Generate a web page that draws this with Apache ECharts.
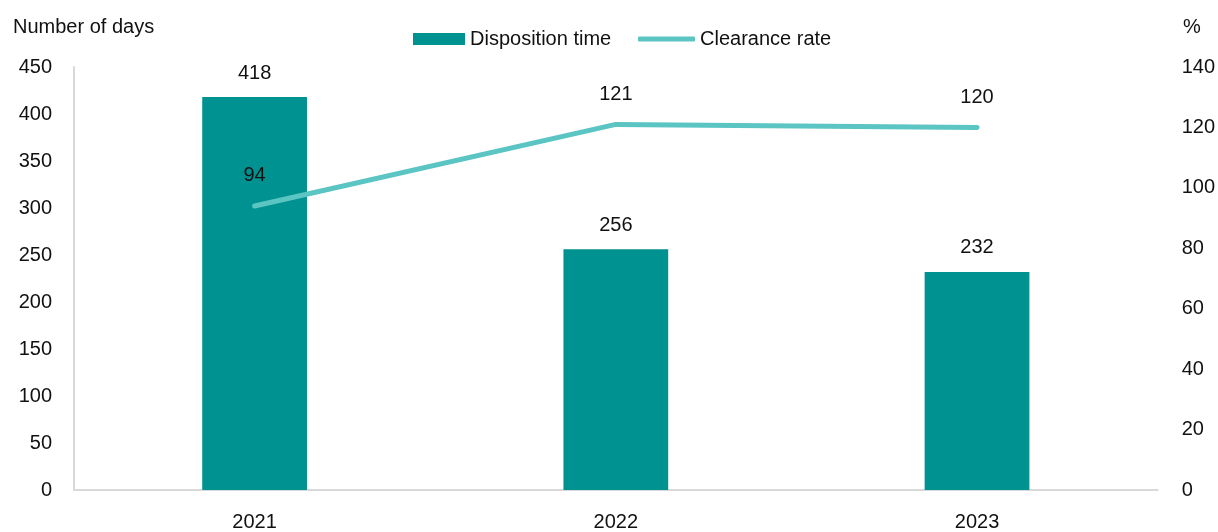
<!DOCTYPE html>
<html><head><meta charset="utf-8">
<script src="https://cdn.jsdelivr.net/npm/echarts@6/dist/echarts.min.js"></script>
<style>html,body{margin:0;padding:0;background:#fff}#c{width:1218px;height:532px}</style>
</head><body><div id="c"></div>
<script>
const categories = ['2021', '2022', '2023'];
const dispositionTime = [418, 256, 232];
const clearanceRate = [94, 121, 120];
const leftTicks = [0, 450, 50];
const rightTicks = [0, 140, 20];

const FONT = '"Liberation Sans Narrow", "Arial Narrow", "Liberation Sans", Arial, sans-serif';
const FS = 20;
const txt = { fontFamily: FONT, fontSize: FS, color: '#111' };
const BAR_C = '#009191';
const LINE_C = '#5BC5C3';
const chart = echarts.init(document.getElementById('c'));
chart.setOption({
  animation: false,
  textStyle: { fontFamily: FONT },
  grid: { left: 74, right: 57, top: 67, bottom: 40, containLabel: false },
  legend: [
    {
      left: 413, top: 29, padding: 0, itemWidth: 52, itemHeight: 12, icon: 'rect',
      textStyle: txt, data: ['Disposition time']
    },
    {
      left: 638, top: 29, padding: 0, itemWidth: 57, itemHeight: 5, icon: 'roundRect',
      textStyle: txt, data: ['Clearance rate']
    }
  ],
  graphic: [
    { type: 'text', left: 13, top: 17, style: { text: 'Number of days', fill: '#111', font: FS + 'px ' + FONT } },
    { type: 'text', left: 1183, top: 17, style: { text: '%', fill: '#111', font: FS + 'px ' + FONT } }
  ],
  xAxis: {
    type: 'category', data: categories,
    axisLine: { lineStyle: { color: '#d9d9d9', width: 2 } },
    axisTick: { show: false },
    axisLabel: Object.assign({}, txt, { margin: 22 })
  },
  yAxis: [
    {
      type: 'value', min: leftTicks[0], max: leftTicks[1], interval: leftTicks[2],
      axisLine: { show: true, lineStyle: { color: '#d9d9d9', width: 2 } },
      axisTick: { show: false }, splitLine: { show: false },
      axisLabel: Object.assign({}, txt, { margin: 22 })
    },
    {
      type: 'value', min: rightTicks[0], max: rightTicks[1], interval: rightTicks[2],
      axisLine: { show: false }, axisTick: { show: false }, splitLine: { show: false },
      axisLabel: Object.assign({}, txt, { margin: 24 })
    }
  ],
  series: [
    {
      name: 'Disposition time', type: 'bar', data: dispositionTime, barWidth: '29%',
      itemStyle: { color: BAR_C },
      label: { show: true, position: 'top', distance: 14, fontFamily: FONT, fontSize: FS, color: '#111' }
    },
    {
      name: 'Clearance rate', type: 'line', yAxisIndex: 1, data: clearanceRate,
      symbol: 'circle', symbolSize: 0.1, showSymbol: true,
      lineStyle: { color: LINE_C, width: 5, cap: 'round' },
      itemStyle: { color: LINE_C },
      label: { show: true, position: 'top', distance: 20, fontFamily: FONT, fontSize: FS, color: '#111' }
    }
  ]
});
</script></body></html>
